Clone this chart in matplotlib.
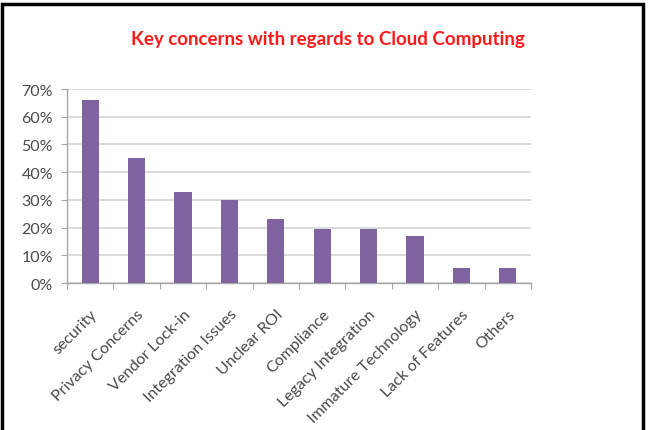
import matplotlib
matplotlib.use("Agg")
import matplotlib.pyplot as plt
from matplotlib.patches import Rectangle
from matplotlib.ticker import FuncFormatter, MultipleLocator

categories = ["security", "Privacy Concerns", "Vendor Lock-in", "Integration Issues",
              "Unclear ROI", "Compliance", "Legacy Integration", "Immature Technology",
              "Lack of Features", "Others"]
values = [66, 45, 33, 30, 23, 19.5, 19.5, 17, 5.5, 5.5]
title = "Key concerns with regards to Cloud Computing"

W, H = 652, 431
plt.rcParams['font.family'] = ['Lato', 'DejaVu Sans']
fig = plt.figure(figsize=(W / 100, H / 100), dpi=100)

# outer frame
fig.patches.append(Rectangle((1.5 / W, -0.1), (643 - 1.5) / W, 1.1 - 5 / H,
                             transform=fig.transFigure, fill=False,
                             edgecolor="black", linewidth=2.5))

ax = fig.add_axes([67 / W, 1 - 284 / H, (531 - 67) / W, (284 - 90) / H])
x = list(range(len(categories)))
ax.bar(x, values, width=0.37, color="#8064A2", zorder=3)
ax.set_xlim(-0.5, len(categories) - 0.5)
ax.set_ylim(0, 70)
ax.yaxis.set_major_locator(MultipleLocator(10))
ax.yaxis.set_major_formatter(FuncFormatter(lambda v, p: f"{int(round(v))}%"))
ax.grid(axis="y", color="#D4D4D4", linewidth=1.2, zorder=0)
for s in ["top", "right"]:
    ax.spines[s].set_visible(False)
for s in ["left", "bottom"]:
    ax.spines[s].set_color("#A6A6A6")
    ax.spines[s].set_linewidth(1.0)
ax.set_xticks([i + 0.5 for i in range(-1, len(categories))], minor=False)
ax.set_xticklabels([])
ax.set_xticks(x, minor=True)
ax.set_xticklabels(categories, minor=True, rotation=45, ha="right",
                   rotation_mode="anchor", fontsize=11.5, color="#4A4A4A")
ax.tick_params(axis="x", which="major", length=4, color="#A6A6A6")
ax.tick_params(axis="x", which="minor", length=0, pad=17)
ax.tick_params(axis="y", length=4, color="#A6A6A6", labelsize=11.5, labelcolor="#4A4A4A", pad=6)

fig.text(328 / W, 1 - 40 / H, title, ha="center", va="center", color="#FF1A1A",
         fontsize=13.5, fontweight="bold")

fig.savefig("out.png", dpi=100)
